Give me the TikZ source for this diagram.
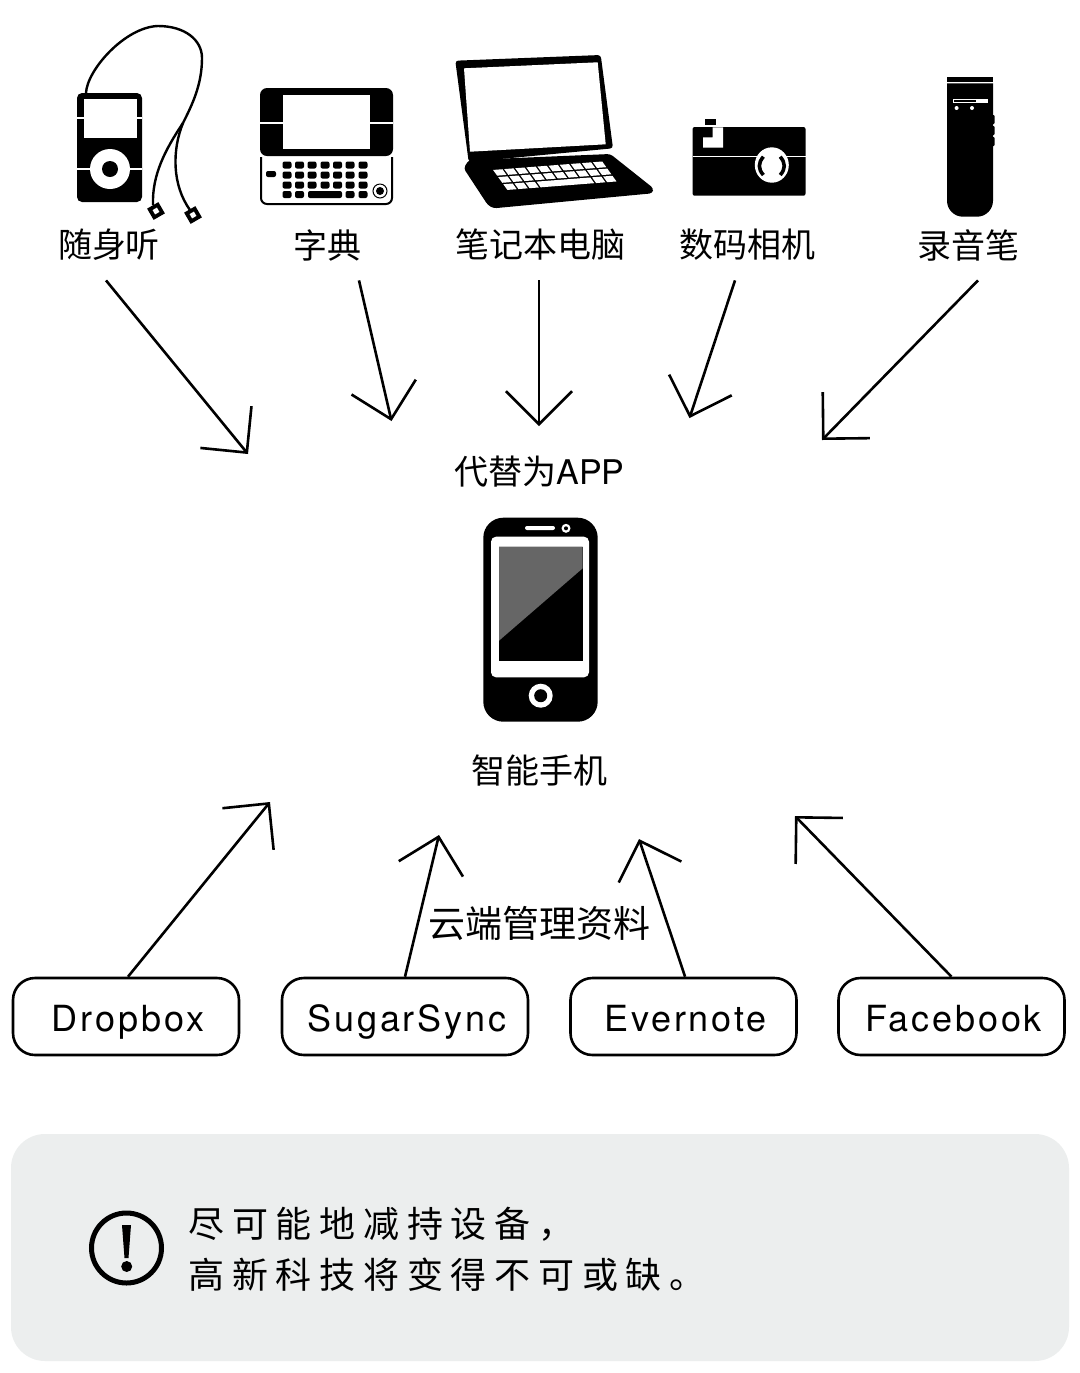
\documentclass[tikz,border=0pt]{standalone}
\usepackage{fontspec}
\usetikzlibrary{arrows.meta}
\setmainfont{TeX Gyre Heros}
\newfontfamily\cjkfont{Noto Sans CJK SC}
\newfontfamily\cjkwide[LetterSpace=21.5]{Noto Sans CJK SC}
\newfontfamily\boxfont[LetterSpace=8]{TeX Gyre Heros}
\definecolor{panelgray}{RGB}{236,238,238}
\definecolor{screengray}{RGB}{102,102,102}
\tikzset{
    devicelabel/.style={font=\cjkfont\fontsize{17pt}{20pt}\selectfont, minimum height=35pt, inner sep=0pt},
    cloudbox/.style={draw, line width=1.3pt, rounded corners=11pt, minimum height=38.5pt, minimum width=113pt, inner sep=0pt, text height=19pt, text depth=3.8pt, execute at begin node=\hspace*{2pt}, font=\boxfont\fontsize{18pt}{20pt}\selectfont},
    hairline/.style={draw=white, line width=.6pt},
    cord/.style={draw, line width=1.2pt},
    arrowline/.style={draw, line width=1.3pt, -{Straight Barb[length=16.5pt,width=33pt]}},
}
\begin{document}
\begin{tikzpicture}[x=.5pt,y=-.5pt]
    \useasboundingbox (0,0) rectangle (1080,1373);
    \fill[white] (0,0) rectangle (1080,1373);

    % player
    \fill[rounded corners=2.5pt] (77,93) rectangle (142,202);
    \fill[white] (83.5,99) rectangle (137,138);
    \fill[white] (110,169) circle[radius=20];
    \fill (110,169) circle[radius=8];
    \draw[hairline] (77,118) -- (84,118) (137,118) -- (142,118) (77,169) -- (91,169) (129,169) -- (142,169);
    \draw[cord] (86,93) .. controls (87,70) and (125,27) .. (158,26) .. controls (185,26) and (202,40) .. (202,58) .. controls (202,85) and (192,105) .. (183,123);
    \draw[cord] (183,123) .. controls (165,150) and (152,175) .. (153,205);
    \draw[cord] (183,123) .. controls (172,150) and (172,185) .. (190,210);
    \foreach \x/\y in {156/211, 193/215} {
        \fill[rotate around={30:(\x,\y)}] (\x-6.5,\y-6.5) rectangle (\x+6.5,\y+6.5);
        \fill[white,rotate around={30:(\x,\y)}] (\x-2.5,\y-2.5) rectangle (\x+2.5,\y+2.5);
    }

    % dictionary
    \fill[rounded corners=3.5pt] (260,88) rectangle (393,156);
    \fill[white] (283,95) rectangle (370,149);
    \draw[hairline] (260,123) -- (283,123) (370,123) -- (393,123);
    \draw[line width=1pt, rounded corners=3pt] (261,157) -- (261,204) -- (392,204) -- (392,157);
    \foreach \y in {165,175,185} \foreach \x in {287,299.5,312,325,337.5,350,363}
        \fill[rounded corners=1pt] (\x-4.5,\y-3.5) rectangle (\x+4.5,\y+3.5);
    \foreach \x in {287,299.5,350,363}
        \fill[rounded corners=1pt] (\x-4.5,191) rectangle (\x+4.5,198);
    \fill[rounded corners=1pt] (308,191) rectangle (342,198);
    \fill[rounded corners=1pt] (266,171) rectangle (276,177);
    \draw[line width=.5pt] (380,191) circle[radius=7];
    \fill (380,191) circle[radius=4];

    % laptop
    \fill[rounded corners=1.5pt] (455.3,60.7) -- (600.7,55) -- (613,148.3) -- (468.7,162) -- cycle;
    \fill[white] (464,68.3) -- (597.7,62.3) -- (605.7,144.3) -- (470,151.7) -- cycle;
    \fill[rounded corners=1.5pt] (463.7,168.3) -- (468.7,160) -- (610.3,154) -- (653.5,188.3) -- (652.4,193.3) -- (493.6,208.3) -- (487.8,205) -- cycle;
    \begin{scope}[shift={(491.7,169.3)},x={(5.545pt,.43pt)},y={(2.55pt,-3.565pt)}]
        \foreach \r in {0,1} \foreach \c in {0,...,9}
            \fill[white] (\c+.08,\r+.1) -- (\c+.92,\r+.1) -- (\c+.92,\r+.9) -- (\c+.08,\r+.9) -- cycle;
        \foreach \c/\w in {0/1,1/1,2/1,3/5,8/1,9/1}
            \fill[white] (\c+.08,2.1) -- (\c+\w-.08,2.1) -- (\c+\w-.08,2.9) -- (\c+.08,2.9) -- cycle;
    \end{scope}

    % camera
    \fill[rounded corners=1pt] (692.6,127) rectangle (805.5,195.7);
    \fill (705,119) rectangle (715.5,125);
    \fill[white] (712.5,127.3) -- (723,127.3) -- (723,147.7) -- (703,147.7) -- (703,137.3) -- (712.5,137.3) -- cycle;
    \draw[hairline] (692.6,156.7) -- (805.5,156.7);
    \fill[white] (771.8,165) ellipse[x radius=17,y radius=17.7];
    \draw[line width=1.8pt] (763.4,156.7) .. controls (758,163) and (758,169) .. (763.4,175);
    \draw[line width=1.8pt] (780.2,156.7) .. controls (785.6,163) and (785.6,169) .. (780.2,175);

    % recorder
    \fill (947,76.7) rectangle (993,81.7);
    \fill (947,83.3) [rounded corners=8pt] -- (947,216.7) -- (993,216.7) [sharp corners] -- (993,83.3) -- cycle;
    \draw[white, line width=.4pt] (953,99) rectangle (987,102.7);
    \fill[white] (975.8,99) rectangle (987,102.7);
    \fill[white] (956.6,108) circle[radius=2] (972,108) circle[radius=2];
    \foreach \y in {115,126,137}
        \fill[rounded corners=.5pt] (992,\y) rectangle (994.6,\y+9);

    % phone
    \fill[rounded corners=10pt] (483.3,517.7) rectangle (597.7,721.7);
    \fill[white,rounded corners=2.5pt] (491,536.7) rectangle (589,677.3);
    \fill (499,546.7) rectangle (582.7,660.7);
    \fill[screengray] (499,546.7) -- (582.7,546.7) -- (582.7,568.3) -- (499,640.7) -- cycle;
    \fill[white,rounded corners=1pt] (525,526) rectangle (555,530);
    \fill[white] (566,528.3) circle[radius=4.5];
    \fill (566,528.3) circle[radius=2];
    \fill[white] (540.7,695.7) circle[radius=12];
    \fill (540.7,695.7) circle[radius=6.5];

    \node[devicelabel] (player) at (109,245) {随身听};
    \node[devicelabel] (dictionary) at (327,245) {字典};
    \node[devicelabel] (laptop) at (540,245) {笔记本电脑};
    \node[devicelabel] (camera) at (747,245) {数码相机};
    \node[devicelabel] (recorder) at (968,245) {录音笔};
    \node[font=\fontsize{17pt}{20pt}\selectfont, inner sep=0pt] (replace) at (539.5,472) {{\cjkfont 代替为}APP};
    \node[font=\cjkfont\fontsize{17pt}{20pt}\selectfont, inner sep=0pt] (phone) at (539,771) {智能手机};
    \node[font=\cjkfont\fontsize{18.5pt}{20pt}\selectfont, inner sep=0pt] (cloud) at (539,923) {云端管理资料};

    \node[cloudbox] (dropbox) at (126,1016.5) {Dropbox};
    \node[cloudbox, minimum width=123pt] (sugarsync) at (405,1016.5) {SugarSync};
    \node[cloudbox] (evernote) at (683.5,1016.5) {Evernote};
    \node[cloudbox] (facebook) at (951.5,1016.5) {Facebook};

    \coordinate (tipa) at (248,454);
    \coordinate (tipb) at (391.5,421);
    \coordinate (tipc) at (539,426);
    \coordinate (tipd) at (689.5,418);
    \coordinate (tipe) at (822,440);
    \coordinate (tipf) at (270,802);
    \coordinate (tipg) at (439,835);
    \coordinate (tiph) at (639,839);
    \coordinate (tipi) at (795,816);

    \draw[arrowline] ([xshift=-1.5pt]player.south) -- (tipa);
    \draw[arrowline] ([xshift=16pt]dictionary.south) -- (tipb);
    \draw[arrowline] ([xshift=-.5pt]laptop.south) -- (tipc);
    \draw[arrowline] ([xshift=-6pt]camera.south) -- (tipd);
    \draw[arrowline] ([xshift=5pt]recorder.south) -- (tipe);
    \draw[arrowline] ([xshift=1pt]dropbox.north) -- (tipf);
    \draw[arrowline] (sugarsync.north) -- (tipg);
    \draw[arrowline] ([xshift=.8pt]evernote.north) -- (tiph);
    \draw[arrowline] (facebook.north) -- (tipi);

    \fill[panelgray, rounded corners=17pt] (11,1134) rectangle (1069,1361);
    \draw[line width=2.5pt] (126.5,1248) circle[radius=35];
    \fill (122,1225) -- (131,1225) -- (128.5,1258) -- (124.5,1258) -- cycle;
    \fill (126.7,1266.5) circle[radius=5.5];
    \node[anchor=west, align=left, inner sep=0pt, font=\cjkwide\fontsize{18pt}{25.5pt}\selectfont] (note) at (188,1249) {尽可能地减持设备，\\高新科技将变得不可或缺。};
\end{tikzpicture}
\end{document}
